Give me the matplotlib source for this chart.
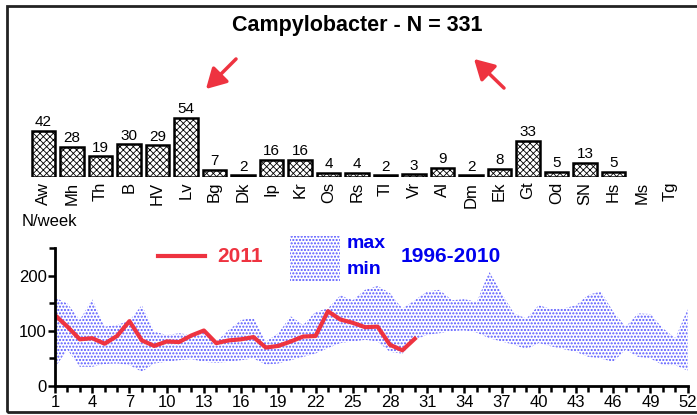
import numpy as np
import matplotlib.pyplot as plt
from matplotlib.patches import Rectangle, FancyArrowPatch

plt.rcParams['font.family'] = ['Liberation Sans', 'DejaVu Sans']

# cases per district
districts = ['Aw', 'Mh', 'Th', 'B', 'HV', 'Lv', 'Bg', 'Dk', 'Ip', 'Kr', 'Os', 'Rs',
             'Tl', 'Vr', 'Al', 'Dm', 'Ek', 'Gt', 'Od', 'SN', 'Hs', 'Ms', 'Tg']
cases = [42, 28, 19, 30, 29, 54, 7, 2, 16, 16, 4, 4,
         2, 3, 9, 2, 8, 33, 5, 13, 5, None, None]

# weekly counts 2011
weeks_2011 = list(range(1, 31))
n_2011 = [128, 107, 84, 86, 76, 90, 117, 82, 72, 80, 79, 91, 100, 77, 82,
          84, 88, 69, 72, 80, 89, 90, 135, 120, 114, 106, 107, 74, 64, 85]

# range 1996-2010
weeks = list(range(1, 53))
n_max = [160, 149, 119, 157, 107, 110, 118, 146, 98, 92, 95, 92, 98, 80, 101,
         119, 123, 80, 95, 126, 110, 134, 140, 164, 155, 174, 181, 168, 140, 155,
         171, 174, 155, 157, 152, 207, 168, 131, 122, 146, 139, 140, 146, 165, 171,
         134, 107, 131, 130, 104, 86, 139]
n_min = [33, 65, 34, 34, 39, 40, 37, 25, 40, 43, 46, 48, 43, 41, 43,
         46, 49, 38, 40, 46, 52, 58, 68, 77, 80, 83, 80, 61, 58, 83,
         92, 95, 99, 100, 96, 86, 80, 74, 66, 77, 71, 66, 61, 52, 49,
         43, 65, 52, 49, 37, 37, 27]

W, H = 697, 415
red = '#ee3340'
blue = '#0000ee'
band_col = '#5555ff'


def fx(x):
    return x / W


def fy(y):
    return 1 - y / H


fig = plt.figure(figsize=(W / 100, H / 100), dpi=100)

# outer frame
fig.patches.append(Rectangle((fx(7), fy(412)), fx(704) - fx(7), fy(6) - fy(412),
                             transform=fig.transFigure, fill=False,
                             edgecolor='#222222', linewidth=2))

fig.text(fx(357), fy(26), 'Campylobacter - N = 331', ha='center', va='center',
         fontsize=15.5, fontweight='bold')

for tail, head in [((238, 57), (204, 91)), ((506, 90), (472, 57))]:
    fig.add_artist(FancyArrowPatch(
        (fx(tail[0]), fy(tail[1])), (fx(head[0]), fy(head[1])),
        transform=fig.transFigure, arrowstyle='-|>,head_length=8,head_width=4.5',
        color=red, linewidth=2.5, mutation_scale=1.5))

# bar chart of districts
plt.rcParams['hatch.linewidth'] = 0.6
ax1 = fig.add_axes([fx(29.25), fy(177.5), fx(684.75) - fx(29.25), 77.4 / H])
xs = np.arange(len(districts))
for x, v in zip(xs, cases):
    if v is None:
        continue
    ax1.bar(x, v, width=0.84, color='white', edgecolor='black',
            linewidth=1.8, hatch='xxxxx')
    ax1.text(x, v + 1.5, str(v), ha='center', va='bottom', fontsize=11)
ax1.set_xlim(-0.5, len(districts) - 0.5)
ax1.set_ylim(0, 70)
ax1.set_xticks(xs)
ax1.set_xticklabels(districts, rotation=90, fontsize=12)
ax1.tick_params(axis='x', length=0, pad=3)
ax1.set_yticks([])
for s in ax1.spines.values():
    s.set_visible(False)
ax1.patch.set_visible(False)

# weekly line chart
plt.rcParams['hatch.linewidth'] = 1.0
ax2 = fig.add_axes([fx(55), fy(385.5), fx(687.7) - fx(55), 137.5 / H])
ax2.fill_between(weeks, n_min, n_max, facecolor='white', edgecolor=band_col,
                 hatch='.....', linewidth=0)
ax2.plot(weeks_2011, n_2011, color=red, linewidth=3)
ax2.set_xlim(1, 52)
ax2.set_ylim(0, 250)
ax2.set_xticks(range(1, 53, 3))
ax2.set_xticks(range(1, 53), minor=True)
ax2.set_yticks([0, 100, 200])
ax2.set_yticks([50, 150, 250], minor=True)
ax2.tick_params(which='both', direction='out', width=1.8, labelsize=12)
ax2.tick_params(which='major', length=5)
ax2.tick_params(which='minor', length=4)
ax2.tick_params(axis='x', pad=2)
ax2.tick_params(axis='y', pad=1)
for side in ['top', 'right']:
    ax2.spines[side].set_visible(False)
for side in ['left', 'bottom']:
    ax2.spines[side].set_linewidth(2)
ax2.patch.set_visible(False)

fig.text(fx(22), fy(221), 'N/week', ha='left', va='center', fontsize=12)

# legend
fig.add_artist(plt.Line2D([fx(158), fx(205)], [fy(256), fy(256)],
                          color=red, linewidth=3, transform=fig.transFigure))
fig.text(fx(217), fy(257), '2011', color=red, fontsize=15, fontweight='bold',
         ha='left', va='center')
fig.patches.append(Rectangle((fx(290), fy(281)), fx(340) - fx(290), fy(236) - fy(281),
                             transform=fig.transFigure, facecolor='white',
                             edgecolor=band_col, hatch='.....', linewidth=0))
fig.text(fx(347), fy(243), 'max', color=blue, fontsize=14, fontweight='bold',
         ha='left', va='center')
fig.text(fx(347), fy(270), 'min', color=blue, fontsize=14, fontweight='bold',
         ha='left', va='center')
fig.text(fx(401), fy(257), '1996-2010', color=blue, fontsize=15, fontweight='bold',
         ha='left', va='center')

fig.savefig('out.png', dpi=100)
